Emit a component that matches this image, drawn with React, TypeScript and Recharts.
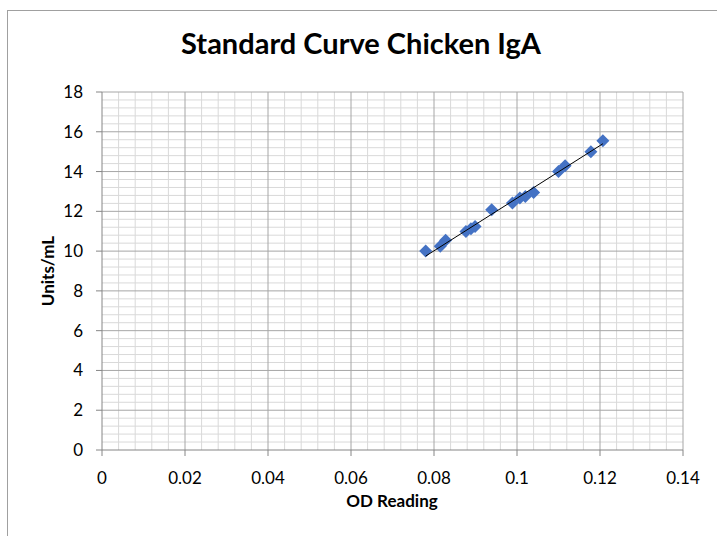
import { ScatterChart, Scatter, XAxis, YAxis, ReferenceLine } from "recharts";

// OD reading vs Units/mL
const OD = [0.078, 0.0815, 0.0828, 0.0877, 0.0889, 0.0899, 0.0939, 0.0989, 0.1007, 0.102, 0.104, 0.11, 0.1116, 0.1178, 0.1207];
const UNITS = [10.0, 10.24, 10.54, 10.99, 11.13, 11.24, 12.08, 12.42, 12.67, 12.75, 12.95, 14.0, 14.29, 15.0, 15.55];

// linear trendline end points
const TREND_OD = [0.078, 0.1207];
const TREND_UNITS = [9.75, 15.4];

const X_TICKS = [0, 0.02, 0.04, 0.06, 0.08, 0.1, 0.12, 0.14];
const Y_TICKS = [0, 2, 4, 6, 8, 10, 12, 14, 16, 18];

const FONT = "Lato, 'Open Sans', sans-serif";
const AXIS = "#868686";
const MAJOR = "#a6a6a6";
const MINOR = "#d9d9d9";
const BLUE = "#4472c4";

// 5 minor divisions in every major interval
function minors(ticks: number[]) {
  const out: number[] = [];
  for (let i = 0; i < ticks.length - 1; i++) {
    const step = (ticks[i + 1] - ticks[i]) / 5;
    for (let k = 1; k < 5; k++) out.push(ticks[i] + step * k);
  }
  return out;
}

const points = OD.map((x, i) => ({ x, y: UNITS[i] }));
const trend = TREND_OD.map((x, i) => ({ x, y: TREND_UNITS[i] }));

function Diamond(props: any) {
  const { cx, cy } = props;
  const r = 6.5;
  return (
    <polygon
      points={`${cx},${cy - r} ${cx + r},${cy} ${cx},${cy + r} ${cx - r},${cy}`}
      fill={BLUE}
    />
  );
}

const NoDot = () => <g />;

export default function App() {
  return (
    <div
      style={{
        position: "fixed",
        left: 0,
        top: 0,
        width: 717,
        height: 536,
        overflow: "hidden",
        background: "#fff",
        fontFamily: FONT,
      }}
    >
      <div
        style={{
          position: "absolute",
          left: 7,
          top: 10,
          width: 730,
          height: 560,
          border: "1px solid #a0a0a0",
        }}
      />
      <div
        style={{
          position: "absolute",
          left: 0,
          width: 722,
          top: 25,
          textAlign: "center",
          fontWeight: "bold",
          fontSize: 29,
          color: "#000",
        }}
      >
        Standard Curve Chicken IgA
      </div>
      <div
        style={{
          position: "absolute",
          left: 47,
          top: 271,
          transform: "translate(-50%, -50%) rotate(-90deg)",
          fontWeight: "bold",
          fontSize: 17,
          whiteSpace: "nowrap",
        }}
      >
        Units/mL
      </div>
      <div
        style={{
          position: "absolute",
          left: 392,
          top: 500,
          transform: "translate(-50%, -50%)",
          fontWeight: "bold",
          fontSize: 17,
          whiteSpace: "nowrap",
        }}
      >
        OD Reading
      </div>
      <div style={{ position: "absolute", left: 0, top: 0 }}>
        <ScatterChart
          width={717}
          height={536}
          margin={{ top: 92, right: 34, bottom: 56, left: 42 }}
        >
          <XAxis
            type="number"
            dataKey="x"
            domain={[0, 0.14]}
            ticks={X_TICKS}
            interval={0}
            height={30}
            tickSize={6}
            tickMargin={16}
            axisLine={{ stroke: AXIS }}
            tickLine={{ stroke: AXIS }}
            tick={{ fill: "#000", fontSize: 17, fontFamily: FONT }}
            allowDataOverflow
          />
          <YAxis
            type="number"
            dataKey="y"
            domain={[0, 18]}
            ticks={Y_TICKS}
            interval={0}
            width={60}
            tickSize={6}
            tickMargin={13}
            axisLine={{ stroke: AXIS }}
            tickLine={{ stroke: AXIS }}
            tick={{ fill: "#000", fontSize: 17, fontFamily: FONT }}
            allowDataOverflow
          />
          {minors(X_TICKS).map((v) => (
            <ReferenceLine key={"mx" + v} x={v} stroke={MINOR} />
          ))}
          {minors(Y_TICKS).map((v) => (
            <ReferenceLine key={"my" + v} y={v} stroke={MINOR} />
          ))}
          {X_TICKS.slice(1).map((v) => (
            <ReferenceLine key={"x" + v} x={v} stroke={MAJOR} />
          ))}
          {Y_TICKS.slice(1).map((v) => (
            <ReferenceLine key={"y" + v} y={v} stroke={MAJOR} />
          ))}
          <Scatter data={points} shape={Diamond} isAnimationActive={false} />
          <Scatter
            data={trend}
            shape={NoDot}
            line={{ stroke: "#000", strokeWidth: 1 }}
            isAnimationActive={false}
          />
        </ScatterChart>
      </div>
    </div>
  );
}
